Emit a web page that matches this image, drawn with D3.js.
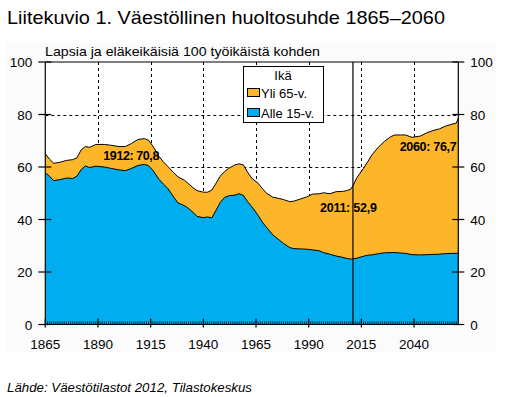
<!DOCTYPE html>
<html><head><meta charset="utf-8">
<script src="https://cdn.jsdelivr.net/npm/d3@7"></script>
<style>body{margin:0;background:#fff;font-family:Arial,"Liberation Sans",sans-serif;}</style>
</head><body><svg id="c" width="520" height="397"></svg>
<script>
const years = [1865,1867,1869,1872,1875,1878,1880,1882,1884,1886,1889,1893,1896,1900,1903,1906,1909,1912,1914,1916,1919,1921,1923,1926,1928,1931,1933,1935,1937,1940,1942,1944,1946,1948,1950,1952,1955,1957,1959,1961,1963,1966,1968,1970,1973,1976,1978,1981,1983,1986,1989,1992,1995,1997,2000,2003,2006,2008,2010,2011,2013,2016,2018,2020,2023,2026,2029,2031,2034,2036,2039,2043,2046,2049,2052,2055,2058,2060,2061];
const totalRatio = [65.0,63.0,61.4,61.8,62.5,62.8,63.5,66.5,67.8,67.5,68.6,68.6,68.3,67.8,67.8,69.0,70.5,70.8,70.2,68.0,64.0,62.0,60.3,57.8,56.2,55.0,53.6,52.2,51.0,50.4,50.4,51.2,53.8,56.5,58.2,59.5,60.8,61.2,60.8,58.0,55.7,53.8,51.8,50.0,48.5,48.0,47.6,46.8,47.0,47.8,48.6,49.7,49.8,50.2,49.8,50.6,50.7,51.0,51.6,52.9,56.1,59.5,62.0,64.6,67.5,69.8,71.6,72.2,72.2,72.2,71.3,71.8,73.0,73.9,74.5,75.6,76.3,76.7,78.5];
const under15 = [57.8,56.5,54.8,55.2,55.8,55.6,56.5,59.0,60.4,59.8,60.3,60.0,59.5,58.9,58.6,59.5,60.6,61.0,60.5,58.8,55.3,53.5,52.0,48.5,46.3,45.3,44.2,42.8,41.2,40.7,41.0,40.6,43.5,46.5,48.4,49.0,49.3,49.8,49.2,46.8,44.9,41.6,39.0,37.0,34.1,32.2,30.9,29.3,28.9,28.8,28.7,28.4,28.1,27.4,26.8,26.1,25.6,25.2,24.9,25.0,25.3,26.0,26.4,26.5,27.0,27.3,27.4,27.4,27.2,27.1,26.6,26.5,26.6,26.7,26.8,27.0,27.1,27.1,27.2];
const xTicks = [1865,1890,1915,1940,1965,1990,2015,2040];
const yTicks = [0,20,40,60,80,100];
const legendLabels = ["Yli 65-v.","Alle 15-v."];
const annotations = [{year:1912,value:70.8,text:"1912: 70,8"},{year:2011,value:52.9,text:"2011: 52,9"},{year:2060,value:76.7,text:"2060: 76,7"}];
const COL_OLD = "#FDB62A", COL_YOUNG = "#00ADEE";

const data = years.map((y,i)=>({year:y,total:totalRatio[i],young:under15[i]}));
const svg = d3.select("#c");
const L=45.3, R=458.3, T=62, B=324.5;
const x = d3.scaleLinear().domain([1865,2061]).range([L,R]);
const y = d3.scaleLinear().domain([0,100]).range([B,T]);

svg.append("rect").attr("x",6).attr("y",43).attr("width",490).attr("height",309).attr("fill","#fbfbfb");
svg.append("rect").attr("x",L).attr("y",T).attr("width",R-L).attr("height",B-T).attr("fill","#fff");

// grid
const g = svg.append("g").attr("stroke","#000").attr("stroke-dasharray","3,3").attr("stroke-width",1);
xTicks.slice(1).forEach(t=>g.append("line").attr("x1",Math.round(x(t))+0.5).attr("x2",Math.round(x(t))+0.5).attr("y1",T).attr("y2",B));
yTicks.slice(1,5).forEach(t=>g.append("line").attr("y1",Math.round(y(t))+0.5).attr("y2",Math.round(y(t))+0.5).attr("x1",L).attr("x2",R));

// areas
svg.append("path").datum(data).attr("fill",COL_OLD)
  .attr("d",d3.area().x(d=>x(d.year)).y0(B).y1(d=>y(d.total)));
svg.append("path").datum(data).attr("fill",COL_YOUNG)
  .attr("d",d3.area().x(d=>x(d.year)).y0(B).y1(d=>y(d.young)));
svg.append("path").datum(data).attr("fill","none").attr("stroke","#000").attr("stroke-width",1)
  .attr("d",d3.line().x(d=>x(d.year)).y(d=>y(d.total)));
svg.append("path").datum(data).attr("fill","none").attr("stroke","#000").attr("stroke-width",1)
  .attr("d",d3.line().x(d=>x(d.year)).y(d=>y(d.young)));

// frame
const ax = svg.append("g").attr("stroke","#000").attr("stroke-width",1.2);
ax.append("line").attr("x1",L).attr("x2",L).attr("y1",T).attr("y2",B);
ax.append("line").attr("x1",R).attr("x2",R).attr("y1",T).attr("y2",B);
ax.append("line").attr("x1",L).attr("x2",R).attr("y1",T).attr("y2",T);
ax.append("line").attr("x1",L).attr("x2",R).attr("y1",B).attr("y2",B);
// 2011 line
ax.append("line").attr("x1",x(2011)).attr("x2",x(2011)).attr("y1",T).attr("y2",B);

// y ticks both sides
yTicks.forEach(t=>{
  ax.append("line").attr("x1",L-7).attr("x2",L+6).attr("y1",y(t)).attr("y2",y(t));
  ax.append("line").attr("x1",R-6).attr("x2",R+6).attr("y1",y(t)).attr("y2",y(t));
});
// minor x ticks every year
const mt = svg.append("g").attr("stroke","#000").attr("stroke-width",0.8);
d3.range(1866,2061).forEach(t=>mt.append("line").attr("x1",x(t)).attr("x2",x(t)).attr("y1",B-3).attr("y2",B));
xTicks.forEach(t=>ax.append("line").attr("x1",x(t)).attr("x2",x(t)).attr("y1",B-6).attr("y2",B+3));

// tick labels
const tl = svg.append("g").attr("font-size","13.5px").attr("fill","#000");
yTicks.forEach(t=>{
  tl.append("text").attr("x",L-13).attr("y",y(t)+5).attr("text-anchor","end").text(t);
  tl.append("text").attr("x",R+12).attr("y",y(t)+5).attr("text-anchor","start").text(t);
});
xTicks.forEach(t=>tl.append("text").attr("x",x(t)).attr("y",B+24).attr("text-anchor","middle").text(t));

// titles
svg.append("text").attr("x",7).attr("y",24).attr("font-size","18.5px").attr("textLength",438).attr("lengthAdjust","spacingAndGlyphs").text("Liitekuvio 1. Väestöllinen huoltosuhde 1865–2060");
svg.append("text").attr("x",45).attr("y",56).attr("font-size","13px").attr("textLength",275).attr("lengthAdjust","spacingAndGlyphs").text("Lapsia ja eläkeikäisiä 100 työikäistä kohden");
svg.append("text").attr("x",7).attr("y",392).attr("font-size","13px").attr("font-style","italic").attr("textLength",245).attr("lengthAdjust","spacingAndGlyphs").text("Lähde: Väestötilastot 2012, Tilastokeskus");

// annotations
const an = svg.append("g").attr("font-size","12.5px").attr("font-weight","bold");
an.append("text").attr("x",x(annotations[0].year)-41).attr("y",y(annotations[0].value)+21).attr("textLength",56).text(annotations[0].text);
an.append("text").attr("x",x(annotations[1].year)-33).attr("y",y(annotations[1].value)+26).attr("textLength",57).text(annotations[1].text);
an.append("text").attr("x",x(annotations[2].year)+0.5-57).attr("y",y(annotations[2].value)+28).attr("textLength",57).text(annotations[2].text);

// legend
const lg = svg.append("g");
lg.append("rect").attr("x",243.5).attr("y",66.5).attr("width",80).attr("height",56).attr("fill","#fff").attr("stroke","#000");
lg.append("text").attr("x",283).attr("y",80).attr("text-anchor","middle").attr("font-size","13px").text("Ikä");
[COL_OLD,COL_YOUNG].forEach((c,i)=>{
  lg.append("rect").attr("x",247.5).attr("y",88.5+i*20).attr("width",12).attr("height",8).attr("fill",c).attr("stroke","#000");
  lg.append("text").attr("x",261).attr("y",98+i*20).attr("font-size","13px").text(legendLabels[i]);
});
</script></body></html>
